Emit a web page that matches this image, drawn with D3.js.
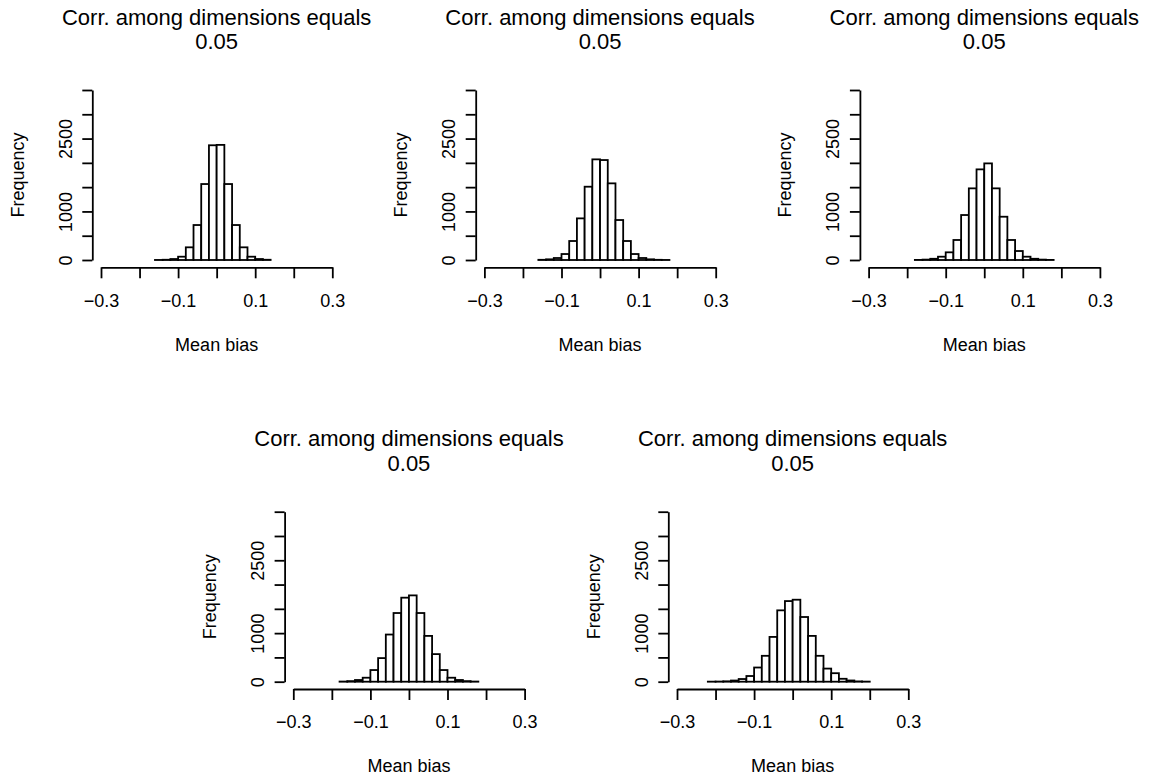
<!DOCTYPE html>
<html>
<head>
<meta charset="utf-8">
<script src="https://cdn.jsdelivr.net/npm/d3@7"></script>
<style>
  html, body { margin: 0; padding: 0; background: #fff; }
  svg { display: block; }
  text { font-family: "Liberation Sans", Arial, Helvetica, sans-serif; fill: #000; }
</style>
</head>
<body>
<div id="chart"></div>
<script>
// left edges of the histogram bins (bin width 0.02)
const binLeft = [-0.22, -0.20, -0.18, -0.16, -0.14, -0.12, -0.10, -0.08, -0.06, -0.04, -0.02,
                 0, 0.02, 0.04, 0.06, 0.08, 0.10, 0.12, 0.14, 0.16, 0.18];
const binWidth = 0.02;

// counts per bin, null where the histogram has no bin
const counts1 = [null, null, null, 1, 5, 20, 68, 261, 720, 1564, 2362,
                 2370, 1564, 720, 261, 68, 20, 5, null, null, null];
const counts2 = [null, null, null, 4, 14, 41, 123, 391, 857, 1509, 2072,
                 2058, 1578, 823, 391, 123, 41, 14, 4, 1, null];
const counts3 = [null, null, 2, 8, 25, 68, 158, 412, 926, 1475, 1866,
                 1989, 1475, 891, 412, 185, 68, 25, 8, 2, null];
const counts4 = [null, null, 3, 12, 35, 82, 240, 486, 971, 1414, 1730,
                 1777, 1414, 943, 568, 240, 82, 35, 12, 3, null];
const counts5 = [1, 3, 8, 24, 55, 117, 292, 533, 922, 1469, 1660,
                 1688, 1332, 943, 533, 270, 175, 60, 25, 6, 2];

const titleLines = ["Corr. among dimensions equals", "0.05"];
const xTicks = [-0.3, -0.2, -0.1, 0, 0.1, 0.2, 0.3];
const xLabelled = [-0.3, -0.1, 0.1, 0.3];
const yTicks = [0, 500, 1000, 1500, 2000, 2500, 3000, 3500];
const yLabelled = [0, 1000, 2500];
const xTitle = "Mean bias";
const yTitle = "Frequency";

const width = 1158;
const height = 780;

// panel offsets (top row of three, bottom row of two, centred)
const panels = [
  { counts: counts1, dx: 0, dy: 0 },
  { counts: counts2, dx: 383.4, dy: 0 },
  { counts: counts3, dx: 767.6, dy: 0 },
  { counts: counts4, dx: 192.3, dy: 421.7 },
  { counts: counts5, dx: 576, dy: 421.7 },
];

const svg = d3.select("#chart")
  .append("svg")
  .attr("width", width)
  .attr("height", height)
  .attr("viewBox", `0 0 ${width} ${height}`);

const x = d3.scaleLinear().domain([-0.3, 0.3]).range([101, 332.3]);
const y = d3.scaleLinear().domain([0, 3500]).range([260, 90]);
const fmt = d3.format(".1f");
const lw = 1.8;

panels.forEach((p) => {
  const g = svg.append("g").attr("transform", `translate(${p.dx},${p.dy})`);

  // title, two lines
  titleLines.forEach((t, i) => {
    g.append("text")
      .attr("x", x(0))
      .attr("y", i === 0 ? 24.5 : 49)
      .attr("text-anchor", "middle")
      .style("font-size", "22px")
      .text(t);
  });

  // bars
  const bins = binLeft
    .map((b, i) => ({ x0: b, n: p.counts[i] }))
    .filter((d) => d.n !== null);

  g.append("g")
    .selectAll("rect")
    .data(bins)
    .join("rect")
    .attr("x", (d) => x(d.x0))
    .attr("width", (d) => x(d.x0 + binWidth) - x(d.x0))
    .attr("y", (d) => y(d.n))
    .attr("height", (d) => y(0) - y(d.n))
    .attr("fill", "#fff")
    .attr("stroke", "#000")
    .attr("stroke-width", lw);

  // x axis
  const xAxis = g.append("g")
    .attr("transform", "translate(0,267.3)")
    .call(d3.axisBottom(x)
      .tickValues(xTicks)
      .tickSize(11)
      .tickSizeOuter(0)
      .tickPadding(15.5)
      .tickFormat((d) => (xLabelled.some((v) => Math.abs(v - d) < 1e-9) ? fmt(d) : "")));
  xAxis.selectAll("path, line").attr("stroke", "#000").attr("stroke-width", lw);
  xAxis.selectAll("text")
    .attr("fill", "#000")
    .style("font-size", "18px")
    .style("font-family", '"Liberation Sans", Arial, Helvetica, sans-serif');

  // y axis
  const yAxis = g.append("g")
    .attr("transform", "translate(92.3,0)")
    .call(d3.axisLeft(y)
      .tickValues(yTicks)
      .tickSize(10)
      .tickSizeOuter(0)
      .tickFormat((d) => (yLabelled.includes(d) ? String(d) : "")));
  yAxis.selectAll("path, line").attr("stroke", "#000").attr("stroke-width", lw);
  yAxis.selectAll("text")
    .attr("x", null)
    .attr("dy", null)
    .attr("text-anchor", "middle")
    .attr("transform", "translate(-20.8,0) rotate(-90)")
    .attr("fill", "#000")
    .style("font-size", "18px")
    .style("font-family", '"Liberation Sans", Arial, Helvetica, sans-serif');

  // axis titles
  g.append("text")
    .attr("x", x(0))
    .attr("y", 350.5)
    .attr("text-anchor", "middle")
    .style("font-size", "18px")
    .text(xTitle);

  g.append("text")
    .attr("transform", `translate(23.5,${y(1750)}) rotate(-90)`)
    .attr("text-anchor", "middle")
    .style("font-size", "18px")
    .text(yTitle);
});
</script>
</body>
</html>
